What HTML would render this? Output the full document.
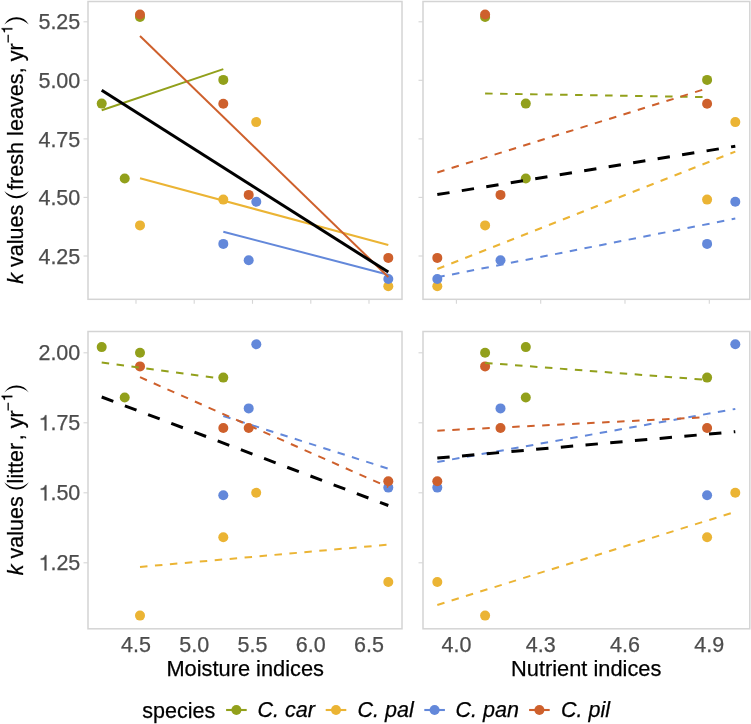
<!DOCTYPE html><html><head><meta charset="utf-8"><style>html,body{margin:0;padding:0;background:#fff;}svg{display:block;will-change:transform;}text{font-family:"Liberation Sans",sans-serif;}</style></head><body>
<svg width="751" height="724" viewBox="0 0 751 724">
<rect width="751" height="724" fill="#fff"/>
<circle cx="101.7" cy="103.6" r="5.0" fill="#92A01B"/>
<circle cx="124.7" cy="178.5" r="5.0" fill="#92A01B"/>
<circle cx="140.0" cy="17.0" r="5.0" fill="#92A01B"/>
<circle cx="223.3" cy="79.9" r="5.0" fill="#92A01B"/>
<circle cx="140.0" cy="225.4" r="5.0" fill="#EBB434"/>
<circle cx="223.3" cy="199.6" r="5.0" fill="#EBB434"/>
<circle cx="256.2" cy="122.1" r="5.0" fill="#EBB434"/>
<circle cx="388.3" cy="286.3" r="5.0" fill="#EBB434"/>
<circle cx="223.3" cy="243.9" r="5.0" fill="#6388DA"/>
<circle cx="248.7" cy="260.3" r="5.0" fill="#6388DA"/>
<circle cx="256.3" cy="201.7" r="5.0" fill="#6388DA"/>
<circle cx="388.3" cy="279.0" r="5.0" fill="#6388DA"/>
<circle cx="140.0" cy="14.5" r="5.0" fill="#CE602C"/>
<circle cx="223.3" cy="103.8" r="5.0" fill="#CE602C"/>
<circle cx="248.7" cy="194.9" r="5.0" fill="#CE602C"/>
<circle cx="388.3" cy="257.9" r="5.0" fill="#CE602C"/>
<line x1="101.7" y1="110.2" x2="223.3" y2="69.1" stroke="#92A01B" stroke-width="2.0"/>
<line x1="140.0" y1="178.2" x2="388.3" y2="245.0" stroke="#EBB434" stroke-width="2.0"/>
<line x1="223.3" y1="231.7" x2="388.3" y2="274.7" stroke="#6388DA" stroke-width="2.0"/>
<line x1="140.0" y1="36.0" x2="388.3" y2="277.0" stroke="#CE602C" stroke-width="2.0"/>
<line x1="101.7" y1="90.3" x2="388.3" y2="272.1" stroke="#000" stroke-width="3.0"/>
<rect x="88" y="1.5" width="314.0" height="297.8" fill="none" stroke="#d4d4d4" stroke-width="1.5"/>
<circle cx="525.8" cy="103.6" r="5.0" fill="#92A01B"/>
<circle cx="525.8" cy="178.5" r="5.0" fill="#92A01B"/>
<circle cx="485.1" cy="17.0" r="5.0" fill="#92A01B"/>
<circle cx="707.1" cy="79.9" r="5.0" fill="#92A01B"/>
<circle cx="485.1" cy="225.4" r="5.0" fill="#EBB434"/>
<circle cx="707.1" cy="199.6" r="5.0" fill="#EBB434"/>
<circle cx="735.3" cy="122.1" r="5.0" fill="#EBB434"/>
<circle cx="437.3" cy="286.3" r="5.0" fill="#EBB434"/>
<circle cx="707.1" cy="243.9" r="5.0" fill="#6388DA"/>
<circle cx="500.5" cy="260.3" r="5.0" fill="#6388DA"/>
<circle cx="735.3" cy="201.7" r="5.0" fill="#6388DA"/>
<circle cx="437.3" cy="279.0" r="5.0" fill="#6388DA"/>
<circle cx="485.1" cy="14.5" r="5.0" fill="#CE602C"/>
<circle cx="707.1" cy="103.8" r="5.0" fill="#CE602C"/>
<circle cx="500.5" cy="194.9" r="5.0" fill="#CE602C"/>
<circle cx="437.3" cy="257.9" r="5.0" fill="#CE602C"/>
<line x1="485.1" y1="93.5" x2="707.1" y2="97.2" stroke="#92A01B" stroke-width="2.0" stroke-dasharray="7.5 7.5"/>
<line x1="437.3" y1="269.0" x2="735.3" y2="151.6" stroke="#EBB434" stroke-width="2.0" stroke-dasharray="7.5 7.5"/>
<line x1="437.3" y1="277.3" x2="735.3" y2="218.6" stroke="#6388DA" stroke-width="2.0" stroke-dasharray="7.5 7.5"/>
<line x1="437.3" y1="172.5" x2="707.1" y2="88.4" stroke="#CE602C" stroke-width="2.0" stroke-dasharray="7.5 7.5"/>
<line x1="437.3" y1="194.6" x2="735.3" y2="146.2" stroke="#000" stroke-width="3.0" stroke-dasharray="12.4 12.4"/>
<rect x="423" y="1.5" width="326.8" height="297.8" fill="none" stroke="#d4d4d4" stroke-width="1.5"/>
<circle cx="101.7" cy="347.1" r="5.0" fill="#92A01B"/>
<circle cx="124.7" cy="397.5" r="5.0" fill="#92A01B"/>
<circle cx="140.0" cy="352.7" r="5.0" fill="#92A01B"/>
<circle cx="223.3" cy="377.6" r="5.0" fill="#92A01B"/>
<circle cx="140.0" cy="615.6" r="5.0" fill="#EBB434"/>
<circle cx="223.3" cy="537.2" r="5.0" fill="#EBB434"/>
<circle cx="256.2" cy="492.7" r="5.0" fill="#EBB434"/>
<circle cx="388.3" cy="582.0" r="5.0" fill="#EBB434"/>
<circle cx="223.3" cy="495.2" r="5.0" fill="#6388DA"/>
<circle cx="248.7" cy="408.4" r="5.0" fill="#6388DA"/>
<circle cx="256.3" cy="344.3" r="5.0" fill="#6388DA"/>
<circle cx="388.3" cy="487.6" r="5.0" fill="#6388DA"/>
<circle cx="140.0" cy="366.4" r="5.0" fill="#CE602C"/>
<circle cx="223.3" cy="428.0" r="5.0" fill="#CE602C"/>
<circle cx="248.7" cy="428.0" r="5.0" fill="#CE602C"/>
<circle cx="388.3" cy="481.2" r="5.0" fill="#CE602C"/>
<line x1="101.7" y1="362.6" x2="223.3" y2="378.9" stroke="#92A01B" stroke-width="2.0" stroke-dasharray="7.5 7.5"/>
<line x1="140.0" y1="566.9" x2="388.3" y2="544.7" stroke="#EBB434" stroke-width="2.0" stroke-dasharray="7.5 7.5"/>
<line x1="223.3" y1="416.0" x2="388.3" y2="468.7" stroke="#6388DA" stroke-width="2.0" stroke-dasharray="7.5 7.5"/>
<line x1="140.0" y1="377.2" x2="388.3" y2="487.1" stroke="#CE602C" stroke-width="2.0" stroke-dasharray="7.5 7.5"/>
<line x1="101.7" y1="397.0" x2="388.3" y2="505.5" stroke="#000" stroke-width="3.0" stroke-dasharray="12.4 12.4"/>
<rect x="88" y="331.5" width="314.0" height="297.3" fill="none" stroke="#d4d4d4" stroke-width="1.5"/>
<circle cx="525.8" cy="347.1" r="5.0" fill="#92A01B"/>
<circle cx="525.8" cy="397.5" r="5.0" fill="#92A01B"/>
<circle cx="485.1" cy="352.7" r="5.0" fill="#92A01B"/>
<circle cx="707.1" cy="377.6" r="5.0" fill="#92A01B"/>
<circle cx="485.1" cy="615.6" r="5.0" fill="#EBB434"/>
<circle cx="707.1" cy="537.2" r="5.0" fill="#EBB434"/>
<circle cx="735.3" cy="492.7" r="5.0" fill="#EBB434"/>
<circle cx="437.3" cy="582.0" r="5.0" fill="#EBB434"/>
<circle cx="707.1" cy="495.2" r="5.0" fill="#6388DA"/>
<circle cx="500.5" cy="408.4" r="5.0" fill="#6388DA"/>
<circle cx="735.3" cy="344.3" r="5.0" fill="#6388DA"/>
<circle cx="437.3" cy="487.6" r="5.0" fill="#6388DA"/>
<circle cx="485.1" cy="366.4" r="5.0" fill="#CE602C"/>
<circle cx="707.1" cy="428.0" r="5.0" fill="#CE602C"/>
<circle cx="500.5" cy="428.0" r="5.0" fill="#CE602C"/>
<circle cx="437.3" cy="481.2" r="5.0" fill="#CE602C"/>
<line x1="485.1" y1="362.9" x2="707.1" y2="379.9" stroke="#92A01B" stroke-width="2.0" stroke-dasharray="7.5 7.5"/>
<line x1="437.3" y1="605.0" x2="735.3" y2="511.8" stroke="#EBB434" stroke-width="2.0" stroke-dasharray="7.5 7.5"/>
<line x1="437.3" y1="462.0" x2="735.3" y2="408.9" stroke="#6388DA" stroke-width="2.0" stroke-dasharray="7.5 7.5"/>
<line x1="437.3" y1="430.7" x2="707.1" y2="417.2" stroke="#CE602C" stroke-width="2.0" stroke-dasharray="7.5 7.5"/>
<line x1="437.3" y1="458.1" x2="735.3" y2="431.7" stroke="#000" stroke-width="3.0" stroke-dasharray="12.4 12.4"/>
<rect x="423" y="331.5" width="326.8" height="297.3" fill="none" stroke="#d4d4d4" stroke-width="1.5"/>
<line x1="83.5" y1="21.8" x2="88" y2="21.8" stroke="#d6d6d6" stroke-width="1.1"/>
<line x1="418.5" y1="21.8" x2="423" y2="21.8" stroke="#d6d6d6" stroke-width="1.1"/>
<line x1="83.5" y1="80.3" x2="88" y2="80.3" stroke="#d6d6d6" stroke-width="1.1"/>
<line x1="418.5" y1="80.3" x2="423" y2="80.3" stroke="#d6d6d6" stroke-width="1.1"/>
<line x1="83.5" y1="138.9" x2="88" y2="138.9" stroke="#d6d6d6" stroke-width="1.1"/>
<line x1="418.5" y1="138.9" x2="423" y2="138.9" stroke="#d6d6d6" stroke-width="1.1"/>
<line x1="83.5" y1="197.4" x2="88" y2="197.4" stroke="#d6d6d6" stroke-width="1.1"/>
<line x1="418.5" y1="197.4" x2="423" y2="197.4" stroke="#d6d6d6" stroke-width="1.1"/>
<line x1="83.5" y1="256.0" x2="88" y2="256.0" stroke="#d6d6d6" stroke-width="1.1"/>
<line x1="418.5" y1="256.0" x2="423" y2="256.0" stroke="#d6d6d6" stroke-width="1.1"/>
<line x1="83.5" y1="352.8" x2="88" y2="352.8" stroke="#d6d6d6" stroke-width="1.1"/>
<line x1="418.5" y1="352.8" x2="423" y2="352.8" stroke="#d6d6d6" stroke-width="1.1"/>
<line x1="83.5" y1="422.8" x2="88" y2="422.8" stroke="#d6d6d6" stroke-width="1.1"/>
<line x1="418.5" y1="422.8" x2="423" y2="422.8" stroke="#d6d6d6" stroke-width="1.1"/>
<line x1="83.5" y1="492.8" x2="88" y2="492.8" stroke="#d6d6d6" stroke-width="1.1"/>
<line x1="418.5" y1="492.8" x2="423" y2="492.8" stroke="#d6d6d6" stroke-width="1.1"/>
<line x1="83.5" y1="562.8" x2="88" y2="562.8" stroke="#d6d6d6" stroke-width="1.1"/>
<line x1="418.5" y1="562.8" x2="423" y2="562.8" stroke="#d6d6d6" stroke-width="1.1"/>
<line x1="136.0" y1="299.3" x2="136.0" y2="303.8" stroke="#d6d6d6" stroke-width="1.1"/>
<line x1="194.2" y1="299.3" x2="194.2" y2="303.8" stroke="#d6d6d6" stroke-width="1.1"/>
<line x1="252.5" y1="299.3" x2="252.5" y2="303.8" stroke="#d6d6d6" stroke-width="1.1"/>
<line x1="310.8" y1="299.3" x2="310.8" y2="303.8" stroke="#d6d6d6" stroke-width="1.1"/>
<line x1="369.0" y1="299.3" x2="369.0" y2="303.8" stroke="#d6d6d6" stroke-width="1.1"/>
<line x1="456.4" y1="299.3" x2="456.4" y2="303.8" stroke="#d6d6d6" stroke-width="1.1"/>
<line x1="540.7" y1="299.3" x2="540.7" y2="303.8" stroke="#d6d6d6" stroke-width="1.1"/>
<line x1="625.0" y1="299.3" x2="625.0" y2="303.8" stroke="#d6d6d6" stroke-width="1.1"/>
<line x1="709.3" y1="299.3" x2="709.3" y2="303.8" stroke="#d6d6d6" stroke-width="1.1"/>
<text x="80.3" y="29.4" font-size="21.5" fill="#4d4d4d" stroke="#4d4d4d" stroke-width="0.25" text-anchor="end">5.25</text>
<text x="80.3" y="87.9" font-size="21.5" fill="#4d4d4d" stroke="#4d4d4d" stroke-width="0.25" text-anchor="end">5.00</text>
<text x="80.3" y="146.5" font-size="21.5" fill="#4d4d4d" stroke="#4d4d4d" stroke-width="0.25" text-anchor="end">4.75</text>
<text x="80.3" y="205.0" font-size="21.5" fill="#4d4d4d" stroke="#4d4d4d" stroke-width="0.25" text-anchor="end">4.50</text>
<text x="80.3" y="263.6" font-size="21.5" fill="#4d4d4d" stroke="#4d4d4d" stroke-width="0.25" text-anchor="end">4.25</text>
<text x="80.3" y="360.4" font-size="21.5" fill="#4d4d4d" stroke="#4d4d4d" stroke-width="0.25" text-anchor="end">2.00</text>
<text x="80.3" y="430.4" font-size="21.5" fill="#4d4d4d" stroke="#4d4d4d" stroke-width="0.25" text-anchor="end">.75</text>
<path transform="translate(38.46,430.40) scale(0.0215,-0.0215)" d="M284 0L372 0L372 709L303 709C290 625 232 568 106 555L106 490L284 490Z" fill="#4d4d4d" stroke="#4d4d4d" stroke-width="11.6"/>
<text x="80.3" y="500.4" font-size="21.5" fill="#4d4d4d" stroke="#4d4d4d" stroke-width="0.25" text-anchor="end">.50</text>
<path transform="translate(38.46,500.40) scale(0.0215,-0.0215)" d="M284 0L372 0L372 709L303 709C290 625 232 568 106 555L106 490L284 490Z" fill="#4d4d4d" stroke="#4d4d4d" stroke-width="11.6"/>
<text x="80.3" y="570.4" font-size="21.5" fill="#4d4d4d" stroke="#4d4d4d" stroke-width="0.25" text-anchor="end">.25</text>
<path transform="translate(38.46,570.40) scale(0.0215,-0.0215)" d="M284 0L372 0L372 709L303 709C290 625 232 568 106 555L106 490L284 490Z" fill="#4d4d4d" stroke="#4d4d4d" stroke-width="11.6"/>
<text x="136.0" y="651.7" font-size="21.5" fill="#4d4d4d" stroke="#4d4d4d" stroke-width="0.25" text-anchor="middle">4.5</text>
<text x="194.2" y="651.7" font-size="21.5" fill="#4d4d4d" stroke="#4d4d4d" stroke-width="0.25" text-anchor="middle">5.0</text>
<text x="252.5" y="651.7" font-size="21.5" fill="#4d4d4d" stroke="#4d4d4d" stroke-width="0.25" text-anchor="middle">5.5</text>
<text x="310.8" y="651.7" font-size="21.5" fill="#4d4d4d" stroke="#4d4d4d" stroke-width="0.25" text-anchor="middle">6.0</text>
<text x="369.0" y="651.7" font-size="21.5" fill="#4d4d4d" stroke="#4d4d4d" stroke-width="0.25" text-anchor="middle">6.5</text>
<text x="456.4" y="651.7" font-size="21.5" fill="#4d4d4d" stroke="#4d4d4d" stroke-width="0.25" text-anchor="middle">4.0</text>
<text x="540.7" y="651.7" font-size="21.5" fill="#4d4d4d" stroke="#4d4d4d" stroke-width="0.25" text-anchor="middle">4.3</text>
<text x="625.0" y="651.7" font-size="21.5" fill="#4d4d4d" stroke="#4d4d4d" stroke-width="0.25" text-anchor="middle">4.6</text>
<text x="709.3" y="651.7" font-size="21.5" fill="#4d4d4d" stroke="#4d4d4d" stroke-width="0.25" text-anchor="middle">4.9</text>
<text x="245.2" y="676" font-size="21.8" fill="#000" stroke="#000" stroke-width="0.25" text-anchor="middle">Moisture indices</text>
<text x="586.2" y="676" font-size="21.8" fill="#000" stroke="#000" stroke-width="0.25" text-anchor="middle">Nutrient indices</text>
<text transform="translate(22.7,283.70) rotate(-90)" font-size="21.5" fill="#000" stroke="#000" stroke-width="0.25"><tspan font-style="italic">k</tspan> values</text>
<path d="M4.3 191.1 A14.02 14.02 0 0 0 28.8 191.1 A17.26 17.26 0 0 1 4.3 191.1Z" fill="#000"/>
<text transform="translate(22.7,190.00) rotate(-90)" font-size="21.65" fill="#000" stroke="#000" stroke-width="0.25">fresh leaves, yr</text>
<path transform="translate(12.3,33.72) rotate(-90) scale(0.015,-0.015)" d="M284 0L372 0L372 709L303 709C290 625 232 568 106 555L106 490L284 490Z" fill="#000" stroke="#000" stroke-width="16.7"/>
<text transform="translate(13.4,43.00) rotate(-90)" font-size="15" fill="#000" stroke="#000" stroke-width="0.25">−</text>
<path d="M4.3 24.5 A13.93 13.93 0 0 1 28.8 24.5 A17.03 17.03 0 0 0 4.3 24.5Z" fill="#000"/>
<text transform="translate(22.7,575.20) rotate(-90)" font-size="21.5" fill="#000" stroke="#000" stroke-width="0.25"><tspan font-style="italic">k</tspan> values</text>
<path d="M4.3 482.3 A13.93 13.93 0 0 0 28.8 482.3 A17.03 17.03 0 0 1 4.3 482.3Z" fill="#000"/>
<text transform="translate(22.7,483.40) rotate(-90)" font-size="21.5" fill="#000" stroke="#000" stroke-width="0.25">litter</text>
<text transform="translate(22.7,440.20) rotate(-90)" font-size="21.5" fill="#000" stroke="#000" stroke-width="0.25">, yr</text>
<path transform="translate(12.3,401.42) rotate(-90) scale(0.015,-0.015)" d="M284 0L372 0L372 709L303 709C290 625 232 568 106 555L106 490L284 490Z" fill="#000" stroke="#000" stroke-width="16.7"/>
<text transform="translate(13.4,410.90) rotate(-90)" font-size="15" fill="#000" stroke="#000" stroke-width="0.25">−</text>
<path d="M4.3 392.6 A14.12 14.12 0 0 1 28.8 392.6 A17.51 17.51 0 0 0 4.3 392.6Z" fill="#000"/>
<text x="142.3" y="717.9" font-size="21.5" fill="#000" stroke="#000" stroke-width="0.25">species</text>
<line x1="226.1" y1="710" x2="246.70000000000002" y2="710" stroke="#92A01B" stroke-width="2.1"/>
<circle cx="236.4" cy="710" r="5.0" fill="#92A01B"/>
<text x="257.5" y="717.4" font-size="21.5" fill="#000" stroke="#000" stroke-width="0.25" font-style="italic">C. car</text>
<line x1="325.7" y1="710" x2="346.3" y2="710" stroke="#EBB434" stroke-width="2.1"/>
<circle cx="336" cy="710" r="5.0" fill="#EBB434"/>
<text x="357.6" y="717.4" font-size="21.5" fill="#000" stroke="#000" stroke-width="0.25" font-style="italic">C. pal</text>
<line x1="424.3" y1="710" x2="444.90000000000003" y2="710" stroke="#6388DA" stroke-width="2.1"/>
<circle cx="434.6" cy="710" r="5.0" fill="#6388DA"/>
<text x="455.5" y="717.4" font-size="21.5" fill="#000" stroke="#000" stroke-width="0.25" font-style="italic">C. pan</text>
<line x1="529.1" y1="710" x2="549.6999999999999" y2="710" stroke="#CE602C" stroke-width="2.1"/>
<circle cx="539.4" cy="710" r="5.0" fill="#CE602C"/>
<text x="561" y="717.4" font-size="21.5" fill="#000" stroke="#000" stroke-width="0.25" font-style="italic">C. pil</text>
</svg></body></html>
